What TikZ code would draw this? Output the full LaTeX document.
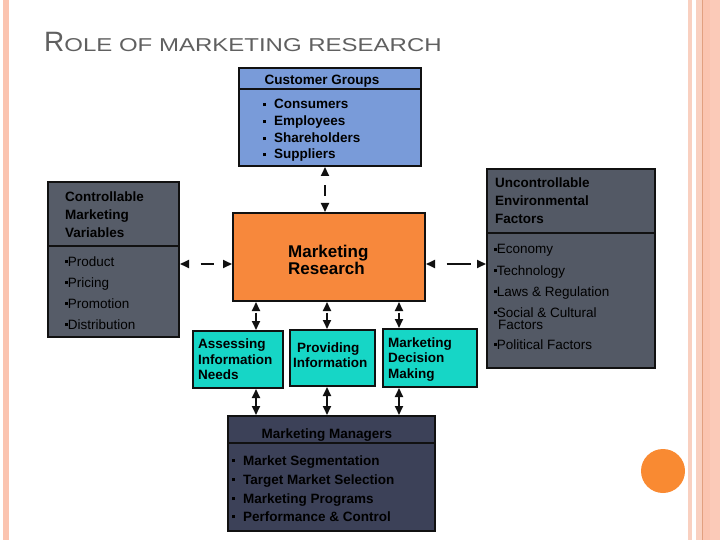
\documentclass[tikz,border=0pt]{standalone}
\usepackage{fontspec}
\setmainfont{Liberation Sans}
\usetikzlibrary{arrows.meta}
\definecolor{titlegray}{RGB}{96,96,96}
\definecolor{custblue}{RGB}{121,155,217}
\definecolor{mrorange}{RGB}{247,136,60}
\definecolor{tealbox}{RGB}{22,214,198}
\definecolor{ctrlgray}{RGB}{86,92,104}
\definecolor{uncgray}{RGB}{83,89,101}
\definecolor{mgrnavy}{RGB}{60,65,88}
\definecolor{dotorange}{RGB}{249,138,50}
\definecolor{stripelight}{RGB}{249,208,192}
\definecolor{stripemain}{RGB}{251,196,176}
\definecolor{stripedark}{RGB}{226,160,128}
\definecolor{edge}{RGB}{17,17,17}
\newcommand{\sqb}{\rule[0.22em]{0.2em}{0.2em}}
\begin{document}
\begin{tikzpicture}[x=1pt,y=-1pt,
  boxshape/.style={draw=edge, line width=2pt, inner sep=0pt, anchor=north west},
  txt/.style={inner sep=0pt, anchor=base west, text=black, font=\fontsize{13.5}{16}\selectfont},
  btxt/.style={inner sep=0pt, anchor=base west, text=black, font=\bfseries\fontsize{13.5}{16}\selectfont},
  divline/.style={draw=edge, line width=2pt},
  arr/.style={{Triangle[length=9pt,width=8pt]}-{Triangle[length=9pt,width=8pt]}, line width=2pt, draw=edge},
]
\useasboundingbox (0,0) rectangle (720,540);
% slide decoration
\fill[stripemain] (3,0) rectangle (9,540);
\fill[stripelight] (688,0) rectangle (692,540);
\fill[stripelight] (696,0) rectangle (702,540);
\fill[stripedark] (702,0) rectangle (703.2,540);
\fill[stripemain] (703.2,0) rectangle (710,540);
\fill[stripemain!90!white] (710,0) rectangle (720,540);
\fill[dotorange] (663,471) circle (22);
% title
\node[inner sep=0pt, anchor=base west, text=titlegray] (title) at (44,52)
  {\fontsize{28}{28}\selectfont R\scalebox{1.29}[1]{\fontsize{18.6}{18.6}\selectfont OLE OF MARKETING RESEARCH}};

% Customer Groups
\node[boxshape, fill=custblue, minimum width=182pt, minimum height=98pt] (cust) at (238,67) {};
\draw[divline] (238,89) -- (420,89);
\node[btxt, anchor=base] (custh) at (322,85) {Customer Groups};
\foreach \t/\yy [count=\i] in {Consumers/109, Employees/126, Shareholders/143, Suppliers/159}{
  \node[btxt] (cb\i) at (263,\yy) {\sqb};
  \node[btxt] (ci\i) at (274,\yy) {\t};
}

% Marketing Research
\node[boxshape, fill=mrorange, minimum width=192pt, minimum height=88pt] (mr) at (232,212) {};
\node[inner sep=0pt, anchor=base west, font=\bfseries\fontsize{17}{17}\selectfont] (mr1) at (288,257) {Marketing};
\node[inner sep=0pt, anchor=base west, font=\bfseries\fontsize{17}{17}\selectfont] (mr2) at (288,274) {Research};

% Controllable
\node[boxshape, fill=ctrlgray, minimum width=131pt, minimum height=155pt] (ctrl) at (47,181) {};
\draw[divline] (47,246) -- (178,246);
\node[btxt] (ch1) at (65,202) {Controllable};
\node[btxt] (ch2) at (65,219) {Marketing};
\node[btxt] (ch3) at (65,237) {Variables};
\foreach \t/\yy [count=\i] in {Product/266, Pricing/287, Promotion/308, Distribution/329}{
  \node[txt] (cv\i) at (65,\yy) {\sqb\t};
}

% Uncontrollable
\node[boxshape, fill=uncgray, minimum width=168pt, minimum height=199pt] (unc) at (486,168) {};
\draw[divline] (486,233) -- (654,233);
\node[btxt] (uh1) at (495,188) {Uncontrollable};
\node[btxt] (uh2) at (495,206) {Environmental};
\node[btxt] (uh3) at (495,224) {Factors};
\node[txt] (u1) at (494,254) {\sqb Economy};
\node[txt] (u2) at (494,275) {\sqb Technology};
\node[txt] (u3) at (494,296) {\sqb Laws \& Regulation};
\node[txt, align=left, font=\fontsize{13.5}{12}\selectfont] (u4) at (494,329) {\sqb Social \& Cultural\\\hspace*{4pt}Factors};
\node[txt] (u5) at (494,349) {\sqb Political Factors};

% teal boxes
\node[boxshape, fill=tealbox, minimum width=90pt, minimum height=57pt] (ass) at (192,330) {};
\node[btxt] (a1) at (198,348) {Assessing};
\node[btxt] (a2) at (198,364) {Information};
\node[btxt] (a3) at (198,379) {Needs};
\node[boxshape, fill=tealbox, minimum width=85pt, minimum height=56pt] (prov) at (289,329) {};
\node[btxt] (p1) at (297,352) {Providing};
\node[btxt] (p2) at (293,367) {Information};
\node[boxshape, fill=tealbox, minimum width=94pt, minimum height=58pt] (mdm) at (382,328) {};
\node[btxt] (m1) at (388,347) {Marketing};
\node[btxt] (m2) at (388,362) {Decision};
\node[btxt] (m3) at (388,378) {Making};

% Marketing Managers
\node[boxshape, fill=mgrnavy, minimum width=207pt, minimum height=115pt] (mgr) at (227,415) {};
\draw[divline] (227,443) -- (434,443);
\node[btxt, anchor=base] (mgrh) at (327,438) {Marketing Managers};
\foreach \t/\yy [count=\i] in {Market Segmentation/465, Target Market Selection/484, Marketing Programs/503, Performance \& Control/521}{
  \node[btxt] (mb\i) at (232,\yy) {\sqb};
  \node[btxt] (mi\i) at (243,\yy) {\t};
}

% connectors
\coordinate (xtop) at (325,0);
\coordinate (yh) at (0,264);
\coordinate (xa) at (256,0);
\coordinate (xp) at (327,0);
\coordinate (xm) at (399,0);
\draw[arr, dash pattern=on 0pt off 10pt on 11pt off 200pt] (cust.south -| xtop) -- (mr.north -| xtop);
\draw[arr, dash pattern=on 0pt off 12pt on 13pt off 200pt] (ctrl.east |- yh) -- (mr.west |- yh);
\draw[arr, dash pattern=on 0pt off 12pt on 24pt off 200pt] (mr.east |- yh) -- (unc.west |- yh);
\draw[arr, dash pattern=on 0pt off 2pt on 8pt off 200pt] (mr.south -| xa) -- (ass.north -| xa);
\draw[arr, dash pattern=on 0pt off 2pt on 8pt off 200pt] (mr.south -| xp) -- (prov.north -| xp);
\draw[arr, dash pattern=on 0pt off 2pt on 8pt off 200pt] (mr.south -| xm) -- (mdm.north -| xm);
\draw[arr] (ass.south -| xa) -- (mgr.north -| xa);
\draw[arr] (prov.south -| xp) -- (mgr.north -| xp);
\draw[arr] (mdm.south -| xm) -- (mgr.north -| xm);
\end{tikzpicture}
\end{document}
